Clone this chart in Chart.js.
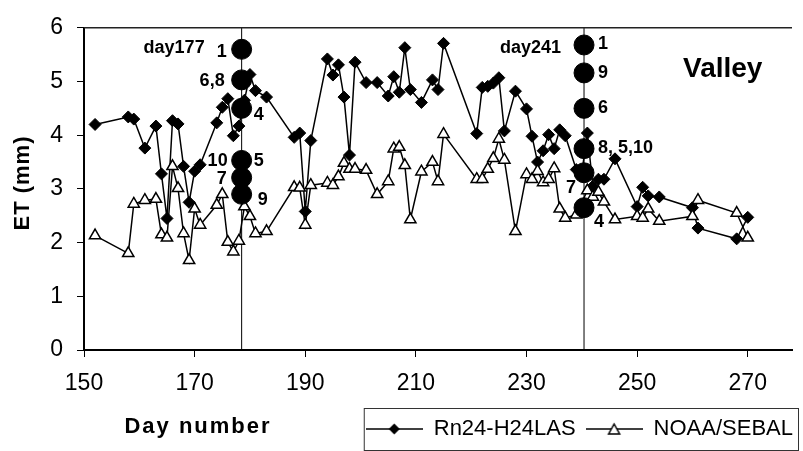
<!DOCTYPE html>
<html>
<head>
<meta charset="utf-8">
<title>ET Valley</title>
<script src="https://cdn.jsdelivr.net/npm/chart.js@4.4.1/dist/chart.umd.min.js"></script>
<style>
    html, body { margin: 0; padding: 0; background: #fff; }
    canvas { display: block; }
</style>
</head>
<body>
<canvas id="etChart" width="803" height="451"></canvas>
<script>
// 数据
const rnDays = [152, 158, 159, 161, 163, 164, 165, 166, 167, 168, 169, 170, 171, 174, 175, 176, 177, 178, 179, 180,
    181, 183, 188, 189, 190, 191, 194, 195, 196, 197, 198, 199, 201, 203, 205, 206, 207, 208, 209, 211,
    213, 214, 215, 221, 222, 223, 224, 225, 226, 228, 230, 231, 232, 233, 234, 235, 236, 237, 239, 240,
    241, 242, 243, 244, 246, 250, 251, 252, 254, 260, 261, 268, 270];
const rnValues = [4.20, 4.34, 4.30, 3.76, 4.17, 3.28, 2.45, 4.27, 4.21, 3.42, 2.75, 3.33, 3.45, 4.23, 4.52, 4.68, 3.99, 4.17, 4.65, 5.13,
    4.83, 4.71, 3.96, 4.04, 2.58, 3.90, 5.42, 5.12, 5.31, 4.71, 3.63, 5.36, 4.98, 4.98, 4.73, 5.09, 4.80, 5.63, 4.85, 4.61,
    5.03, 4.85, 5.71, 4.03, 4.89, 4.91, 4.97, 5.07, 4.08, 4.82, 4.49, 3.98, 3.50, 3.71, 4.01, 3.75, 4.10, 3.99, 3.36, 3.30,
    4.04, 3.05, 3.18, 3.18, 3.56, 2.67, 3.03, 2.87, 2.85, 2.65, 2.27, 2.07, 2.47];

const noaaDays = [152, 158, 159, 161, 163, 164, 165, 166, 167, 168, 169, 170, 171, 174, 175, 176, 177, 178, 179, 180,
    181, 183, 188, 189, 190, 191, 194, 195, 196, 197, 198, 199, 201, 203, 205, 206, 207, 208, 209, 211,
    213, 214, 215, 221, 222, 223, 224, 225, 226, 228, 230, 231, 232, 233, 234, 235, 236, 237, 239, 241,
    242, 243, 244, 246, 250, 251, 252, 254, 260, 261, 268, 270];
const noaaValues = [2.13, 1.80, 2.72, 2.79, 2.81, 2.15, 2.09, 3.42, 3.01, 2.17, 1.67, 2.63, 2.33, 2.70, 2.90, 2.01, 1.83, 2.03, 2.67, 2.49,
    2.17, 2.21, 3.03, 3.02, 2.33, 3.07, 3.11, 3.07, 3.23, 3.48, 3.37, 3.37, 3.35, 2.90, 3.14, 3.75, 3.78, 3.44, 2.43, 3.32,
    3.50, 3.14, 4.02, 3.18, 3.18, 3.37, 3.57, 3.93, 3.54, 2.21, 3.27, 3.18, 3.33, 3.12, 3.18, 3.38, 2.63, 2.46, 2.52, 2.97,
    2.85, 2.94, 2.76, 2.43, 2.49, 2.46, 2.63, 2.40, 2.49, 2.79, 2.55, 2.09];

// 两个观测日的竖线和站点
const siteDays = [178.5, 240.4];
const siteLineRange = [0, 6];
const site177Values = [5.60, 5.03, 4.50, 3.53, 3.21, 2.90];
const site241Values = [5.68, 5.16, 4.50, 3.75, 3.30, 2.65];

// 坐标轴
const dayTicks = [150, 170, 190, 210, 230, 250, 270];
const dayRange = [150, 278];
const etRange = [0, 6];

const FONT = "'Liberation Sans', Arial, Helvetica, sans-serif";

// 站点编号标注 (at = 对应的站点序号)
const site177Labels = [
    { text: '1', at: 0, dx: -15, dy: 3, align: 'right' },
    { text: '6,8', at: 1, dx: -17, dy: 1, align: 'right' },
    { text: '4', at: 2, dx: 12, dy: 7, align: 'left' },
    { text: '10', at: 3, dx: -14, dy: 1, align: 'right' },
    { text: '5', at: 3, dx: 12, dy: 1, align: 'left' },
    { text: '7', at: 4, dx: -15, dy: 1, align: 'right' },
    { text: '9', at: 5, dx: 16, dy: 6, align: 'left' }
];
const site241Labels = [
    { text: '1', at: 0, dx: 14, dy: -1, align: 'left' },
    { text: '9', at: 1, dx: 14, dy: 0, align: 'left' },
    { text: '6', at: 2, dx: 14, dy: 0, align: 'left' },
    { text: '8, 5,10', at: 3, dx: 14, dy: -1, align: 'left' },
    { text: '7', at: 4, dx: -8, dy: 15, align: 'right' },
    { text: '4', at: 5, dx: 10, dy: 14, align: 'left' }
];

function toPoints(xs, ys) {
    return xs.map((x, i) => ({ x: x, y: ys[i] }));
}

// 图例里的线+标记小图
function legendSample(kind) {
    const c = document.createElement('canvas');
    c.width = 57;
    c.height = 16;
    const g = c.getContext('2d');
    g.strokeStyle = '#000';
    g.lineWidth = 1.5;
    g.beginPath();
    g.moveTo(0, 8);
    g.lineTo(57, 8);
    g.stroke();
    g.beginPath();
    if (kind === 'diamond') {
        g.moveTo(28.5, 2.5);
        g.lineTo(34, 8);
        g.lineTo(28.5, 13.5);
        g.lineTo(23, 8);
        g.closePath();
        g.fillStyle = '#000';
        g.fill();
    } else {
        g.moveTo(28.5, 3);
        g.lineTo(34, 13);
        g.lineTo(23, 13);
        g.closePath();
        g.fillStyle = '#fff';
        g.fill();
        g.stroke();
    }
    return c;
}

// 文字和边框
const annotationPlugin = {
    id: 'annotations',
    afterDraw(chart) {
        const ctx = chart.ctx;
        const area = chart.chartArea;
        const xs = chart.scales.x;
        const ys = chart.scales.y;

        ctx.save();
        // 顶部边框
        ctx.strokeStyle = '#222';
        ctx.lineWidth = 1.5;
        ctx.beginPath();
        ctx.moveTo(area.left, area.top);
        ctx.lineTo(area.right, area.top);
        ctx.stroke();

        // 图例边框
        const legend = chart.legend;
        if (legend && legend.legendHitBoxes && legend.legendHitBoxes.length) {
            const left = legend.legendHitBoxes[0].left - 2;
            ctx.strokeStyle = '#333';
            ctx.lineWidth = 1;
            ctx.strokeRect(left + 0.5, legend.top + 0.5, 798 - left, 42);
        }

        ctx.fillStyle = '#000';
        ctx.textBaseline = 'middle';

        // 轴标题
        ctx.font = 'bold 22px ' + FONT;
        ctx.textAlign = 'center';
        ctx.letterSpacing = '2px';
        ctx.fillText('Day number', 198, 427);
        ctx.save();
        ctx.letterSpacing = '1px';
        ctx.translate(23, 183);
        ctx.rotate(-Math.PI / 2);
        ctx.fillText('ET (mm)', 0, 0);
        ctx.restore();
        ctx.letterSpacing = '0px';

        ctx.font = 'bold 28px ' + FONT;
        ctx.textAlign = 'left';
        ctx.fillText('Valley', 683, 69);

        // 日期标注
        ctx.font = 'bold 18px ' + FONT;
        ctx.textAlign = 'right';
        ctx.fillText('day177', xs.getPixelForValue(siteDays[0]) - 37, area.top + 20);
        ctx.fillText('day241', xs.getPixelForValue(siteDays[1]) - 23, area.top + 20);

        const drawLabels = (labels, day, values) => {
            const px = xs.getPixelForValue(day);
            labels.forEach(l => {
                ctx.textAlign = l.align;
                ctx.fillText(l.text, px + l.dx, ys.getPixelForValue(values[l.at]) + l.dy);
            });
        };
        drawLabels(site177Labels, siteDays[0], site177Values);
        drawLabels(site241Labels, siteDays[1], site241Values);
        ctx.restore();
    }
};

const axisStyle = {
    grid: { drawOnChartArea: false, drawTicks: true, tickLength: 7, color: '#000', lineWidth: 1 },
    border: { display: true, color: '#000', width: 2 }
};

const EtChart = {
    chart: null,

    init() {
        const ctx = document.getElementById('etChart');
        Chart.defaults.font.family = FONT;

        this.chart = new Chart(ctx, {
            type: 'line',
            data: {
                datasets: [
                    {
                        label: 'Rn24-H24LAS',
                        data: toPoints(rnDays, rnValues),
                        borderColor: '#000',
                        borderWidth: 1.5,
                        pointStyle: 'rectRot',
                        pointRadius: 6,
                        pointBackgroundColor: '#000',
                        pointBorderColor: '#000',
                        pointBorderWidth: 1,
                        order: 2
                    },
                    {
                        label: 'NOAA/SEBAL',
                        data: toPoints(noaaDays, noaaValues),
                        borderColor: '#000',
                        borderWidth: 1.5,
                        pointStyle: 'triangle',
                        pointRadius: 6.5,
                        pointBackgroundColor: '#fff',
                        pointBorderColor: '#000',
                        pointBorderWidth: 1.5,
                        order: 1
                    },
                    {
                        label: 'day177 line',
                        data: siteLineRange.map(v => ({ x: siteDays[0], y: v })),
                        borderColor: '#000',
                        borderWidth: 1,
                        pointRadius: 0,
                        order: 3
                    },
                    {
                        label: 'day241 line',
                        data: siteLineRange.map(v => ({ x: siteDays[1], y: v })),
                        borderColor: '#000',
                        borderWidth: 1,
                        pointRadius: 0,
                        order: 3
                    },
                    {
                        label: 'day177 sites',
                        data: site177Values.map(v => ({ x: siteDays[0], y: v })),
                        showLine: false,
                        pointStyle: 'circle',
                        pointRadius: 10,
                        pointBackgroundColor: '#000',
                        pointBorderColor: '#000',
                        order: 0
                    },
                    {
                        label: 'day241 sites',
                        data: site241Values.map(v => ({ x: siteDays[1], y: v })),
                        showLine: false,
                        pointStyle: 'circle',
                        pointRadius: 10,
                        pointBackgroundColor: '#000',
                        pointBorderColor: '#000',
                        order: 0
                    }
                ]
            },
            options: {
                responsive: false,
                animation: false,
                events: [],
                devicePixelRatio: 1,
                layout: { padding: { top: 17, right: 0, bottom: 1, left: 0 } },
                scales: {
                    x: {
                        type: 'linear',
                        min: dayRange[0],
                        max: dayRange[1],
                        ticks: { autoSkip: false, maxRotation: 0, padding: 13, color: '#000', font: { family: FONT, size: 23 } },
                        grid: axisStyle.grid,
                        border: axisStyle.border,
                        // 刻度固定为 150, 170, ... 270
                        afterBuildTicks: (scale) => {
                            scale.ticks = dayTicks.map(v => ({ value: v }));
                        },
                        afterFit: (scale) => { scale.height = 58; }
                    },
                    y: {
                        min: etRange[0],
                        max: etRange[1],
                        ticks: { stepSize: 1, padding: 14, color: '#000', font: { family: FONT, size: 23 } },
                        grid: axisStyle.grid,
                        border: axisStyle.border,
                        afterFit: (scale) => { scale.width = 84; }
                    }
                },
                plugins: {
                    tooltip: { enabled: false },
                    legend: {
                        position: 'bottom',
                        align: 'end',
                        labels: {
                            usePointStyle: true,
                            pointStyleWidth: 57,
                            padding: 10,
                            color: '#000',
                            font: { family: FONT, size: 22 },
                            generateLabels: () => [
                                { text: 'Rn24-H24LAS', pointStyle: legendSample('diamond'), fillStyle: '#000', strokeStyle: '#000', lineWidth: 0, hidden: false, datasetIndex: 0 },
                                { text: 'NOAA/SEBAL', pointStyle: legendSample('triangle'), fillStyle: '#fff', strokeStyle: '#000', lineWidth: 0, hidden: false, datasetIndex: 1 }
                            ]
                        }
                    }
                }
            },
            plugins: [annotationPlugin]
        });
    }
};

EtChart.init();
</script>
</body>
</html>
